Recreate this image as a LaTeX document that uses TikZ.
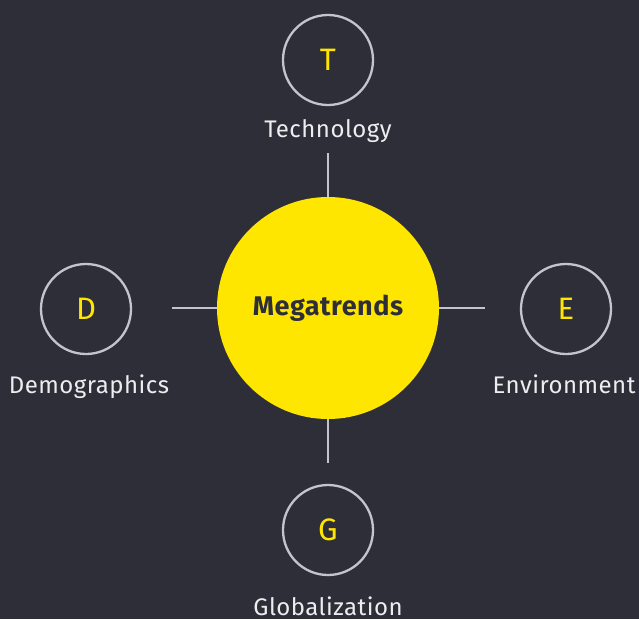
\documentclass[tikz,border=0pt]{standalone}
\usepackage{fontspec}
\setmainfont{Fira Sans}
\newfontfamily\trendfont[LetterSpace=2]{Fira Sans}
\definecolor{eydark}{HTML}{2E2E38}
\definecolor{eyyellow}{HTML}{FFE600}
\definecolor{ringgray}{HTML}{C4C4CD}
\definecolor{labelwhite}{HTML}{EDEDF0}

\begin{document}
\begin{tikzpicture}[x=1pt,y=-1pt,
core/.style={circle,fill=eyyellow,minimum size=222pt,inner sep=0pt,text=eydark,font=\trendfont\bfseries\fontsize{27}{30}\selectfont},
trend/.style={circle,draw=ringgray,line width=2.3pt,minimum size=90pt,inner sep=0pt,text=eyyellow,font=\fontsize{31}{36}\selectfont},
caption/.style={anchor=base,text=labelwhite,font=\trendfont\fontsize{24}{28}\selectfont},
link/.style={draw=ringgray,line width=1.2pt}]

\fill[eydark] (0,0) rectangle (639,619);

\draw (328,308) node[core] (mega) {Megatrends};

\draw (328,60) node[trend] (T) {T};
\draw (86,309) node[trend] (D) {D};
\draw (566,309) node[trend] (E) {E};
\draw (328,530) node[trend] (G) {G};

\draw (328,137) node[caption] (Tlab) {Technology};
\draw (89,393) node[caption] (Dlab) {Demographics};
\draw (564,393) node[caption] (Elab) {Environment};
\draw (328,615) node[caption] (Glab) {Globalization};

\coordinate (tend) at (328,153);
\coordinate (dend) at (172,308);
\coordinate (eend) at (485,308);
\coordinate (gend) at (328,463);

\draw[link] (mega.north) -- (tend);
\draw[link] (mega.west) -- (dend);
\draw[link] (mega.east) -- (eend);
\draw[link] (mega.south) -- (gend);
\end{tikzpicture}
\end{document}
